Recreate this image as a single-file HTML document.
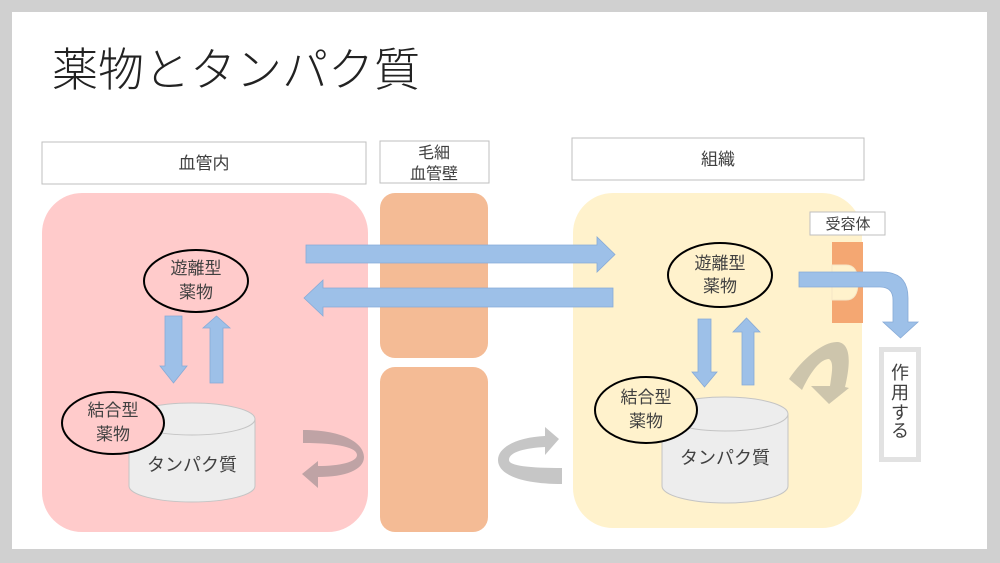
<!DOCTYPE html>
<html><head><meta charset="utf-8"><style>
html,body{margin:0;padding:0;background:#d0d0d0;}
svg{display:block;}
text{font-family:"Liberation Sans","Noto Sans CJK JP",sans-serif;fill:#404040;}
text.title{font-family:"Noto Sans CJK JP Light","Noto Sans CJK JP DemiLight","Noto Sans CJK JP",sans-serif;}
</style></head><body>
<svg width="1000" height="563" viewBox="0 0 1000 563" xmlns="http://www.w3.org/2000/svg">
<rect x="0" y="0" width="1000" height="563" fill="#d0d0d0"/>
<rect x="12" y="12" width="975" height="537" fill="#ffffff"/>

<text class="title" x="52" y="86" font-size="46" font-weight="300" style="fill:#222">薬物とタンパク質</text>

<!-- header boxes -->
<rect x="42" y="142" width="324" height="42" fill="#fff" stroke="#bfbfbf" stroke-width="1"/>
<text x="204" y="169" font-size="17" text-anchor="middle">血管内</text>
<rect x="380" y="141" width="109" height="42" fill="#fff" stroke="#bfbfbf" stroke-width="1"/>
<text x="434" y="158" font-size="16" text-anchor="middle">毛細</text>
<text x="434" y="179" font-size="16" text-anchor="middle">血管壁</text>
<rect x="572" y="138" width="292" height="42" fill="#fff" stroke="#bfbfbf" stroke-width="1"/>
<text x="718" y="165" font-size="17" text-anchor="middle">組織</text>

<!-- regions -->
<rect x="42" y="193" width="326" height="339" rx="40" fill="#ffcbcb"/>
<rect x="573" y="193" width="289" height="335" rx="40" fill="#fff2cc"/>
<rect x="380" y="193" width="108" height="165" rx="15" fill="#f4bb95"/>
<rect x="380" y="367" width="108" height="165" rx="15" fill="#f4bb95"/>

<!-- horizontal arrows -->
<path d="M306,245 H597 V237 L615,254.5 L597,272 V263 H306 Z" fill="#9dc0e8" stroke="#87aad6" stroke-width="0.8"/>
<path d="M613,288 H323 V280 L304,298 L323,316 V307 H613 Z" fill="#9dc0e8" stroke="#87aad6" stroke-width="0.8"/>

<!-- left vertical arrows -->
<path d="M165,316 H182 V366 H187 L173.5,383 L160,366 H165 Z" fill="#9dc0e8" stroke="#87aad6" stroke-width="0.8"/>
<path d="M210,383 V328 H203 L216.5,316 L230,328 H223 V383 Z" fill="#9dc0e8" stroke="#87aad6" stroke-width="0.8"/>

<!-- right vertical arrows -->
<path d="M698,319 H711 V372 H717 L704.5,387 L692,372 H698 Z" fill="#9dc0e8" stroke="#87aad6" stroke-width="0.8"/>
<path d="M742,385 V332 H733 L746.5,318 L760,332 H754 V385 Z" fill="#9dc0e8" stroke="#87aad6" stroke-width="0.8"/>

<!-- left cylinder -->
<path d="M129,419 V486 A63,16 0 0 0 255,486 V419 Z" fill="#ededed" stroke="#c4c4c4" stroke-width="1"/>
<ellipse cx="192" cy="419" rx="63" ry="16" fill="#ededed" stroke="#c4c4c4" stroke-width="1"/>
<text x="192" y="471" font-size="18" text-anchor="middle">タンパク質</text>

<!-- right cylinder -->
<path d="M662,414 V486 A63,17 0 0 0 788,486 V414 Z" fill="#ededed" stroke="#c4c4c4" stroke-width="1"/>
<ellipse cx="725" cy="414" rx="63" ry="17" fill="#ededed" stroke="#c4c4c4" stroke-width="1"/>
<text x="725" y="464" font-size="18" text-anchor="middle">タンパク質</text>

<!-- ellipses -->
<ellipse cx="196" cy="281" rx="52" ry="31" fill="#ffcbcb" stroke="#000" stroke-width="2"/>
<text x="196" y="274" font-size="17" text-anchor="middle">遊離型</text>
<text x="196" y="298" font-size="17" text-anchor="middle">薬物</text>

<ellipse cx="113" cy="423" rx="51" ry="31" fill="#ffcbcb" stroke="#000" stroke-width="2"/>
<text x="113" y="416" font-size="17" text-anchor="middle">結合型</text>
<text x="113" y="440" font-size="17" text-anchor="middle">薬物</text>

<ellipse cx="720" cy="275" rx="52" ry="32" fill="#fff2cc" stroke="#000" stroke-width="2"/>
<text x="720" y="269" font-size="17" text-anchor="middle">遊離型</text>
<text x="720" y="292" font-size="17" text-anchor="middle">薬物</text>

<ellipse cx="646" cy="410" rx="51" ry="33" fill="#fff2cc" stroke="#000" stroke-width="2"/>
<text x="646" y="403" font-size="17" text-anchor="middle">結合型</text>
<text x="646" y="427" font-size="17" text-anchor="middle">薬物</text>

<!-- curved arrows -->
<path d="M303,430 C345,430 364,444 364,457 C364,470 345,477 318,477 L318,488 L302,474 L318,461 L318,466 C340,466 357,462 357,455 C357,448 340,443 303,443 Z" fill="#bfa3a5"/>
<path d="M562,484 C525,484 498,476 498,460 C498,446 520,437 545,436 L545,427 L559,439 L545,455 L545,447 C525,448 509,452 509,460 C509,466 530,468 562,468 Z" fill="#c6c6c6"/>
<path d="M789,379 C803,358 824,341 838,342 C852,344 850,366 845,387 L849,388 L829,404 L811,386 L830,386 C832,372 834,362 829,359 C820,359 810,373 802,390 Z" fill="#cdc5ac"/>

<!-- receptor -->
<rect x="810" y="212" width="75" height="23" fill="#fff" stroke="#bfbfbf" stroke-width="1"/>
<text x="848" y="229" font-size="15" text-anchor="middle">受容体</text>
<rect x="832" y="242" width="31" height="81" fill="#f4a772"/>
<path d="M832,265 H846 Q858,265 858,282.5 Q858,300 846,300 H832 Z" fill="#fff2cc" stroke="#f6e6c6" stroke-width="1"/>

<!-- bent arrow -->
<path d="M799,272 H882 Q908,272 908,298 V322 H918 L900.5,338 L883,322 H893 V300 Q893,287 880,287 H799 Z" fill="#9dc0e8" stroke="#87aad6" stroke-width="0.8"/>

<!-- 作用する -->
<rect x="881.5" y="349.5" width="37" height="110" fill="#fff" stroke="#e2e2e2" stroke-width="5"/>
<text x="900" y="379" font-size="18" text-anchor="middle">作</text>
<text x="900" y="399" font-size="18" text-anchor="middle">用</text>
<text x="900" y="419" font-size="18" text-anchor="middle">す</text>
<text x="900" y="437" font-size="18" text-anchor="middle">る</text>
</svg>
</body></html>
